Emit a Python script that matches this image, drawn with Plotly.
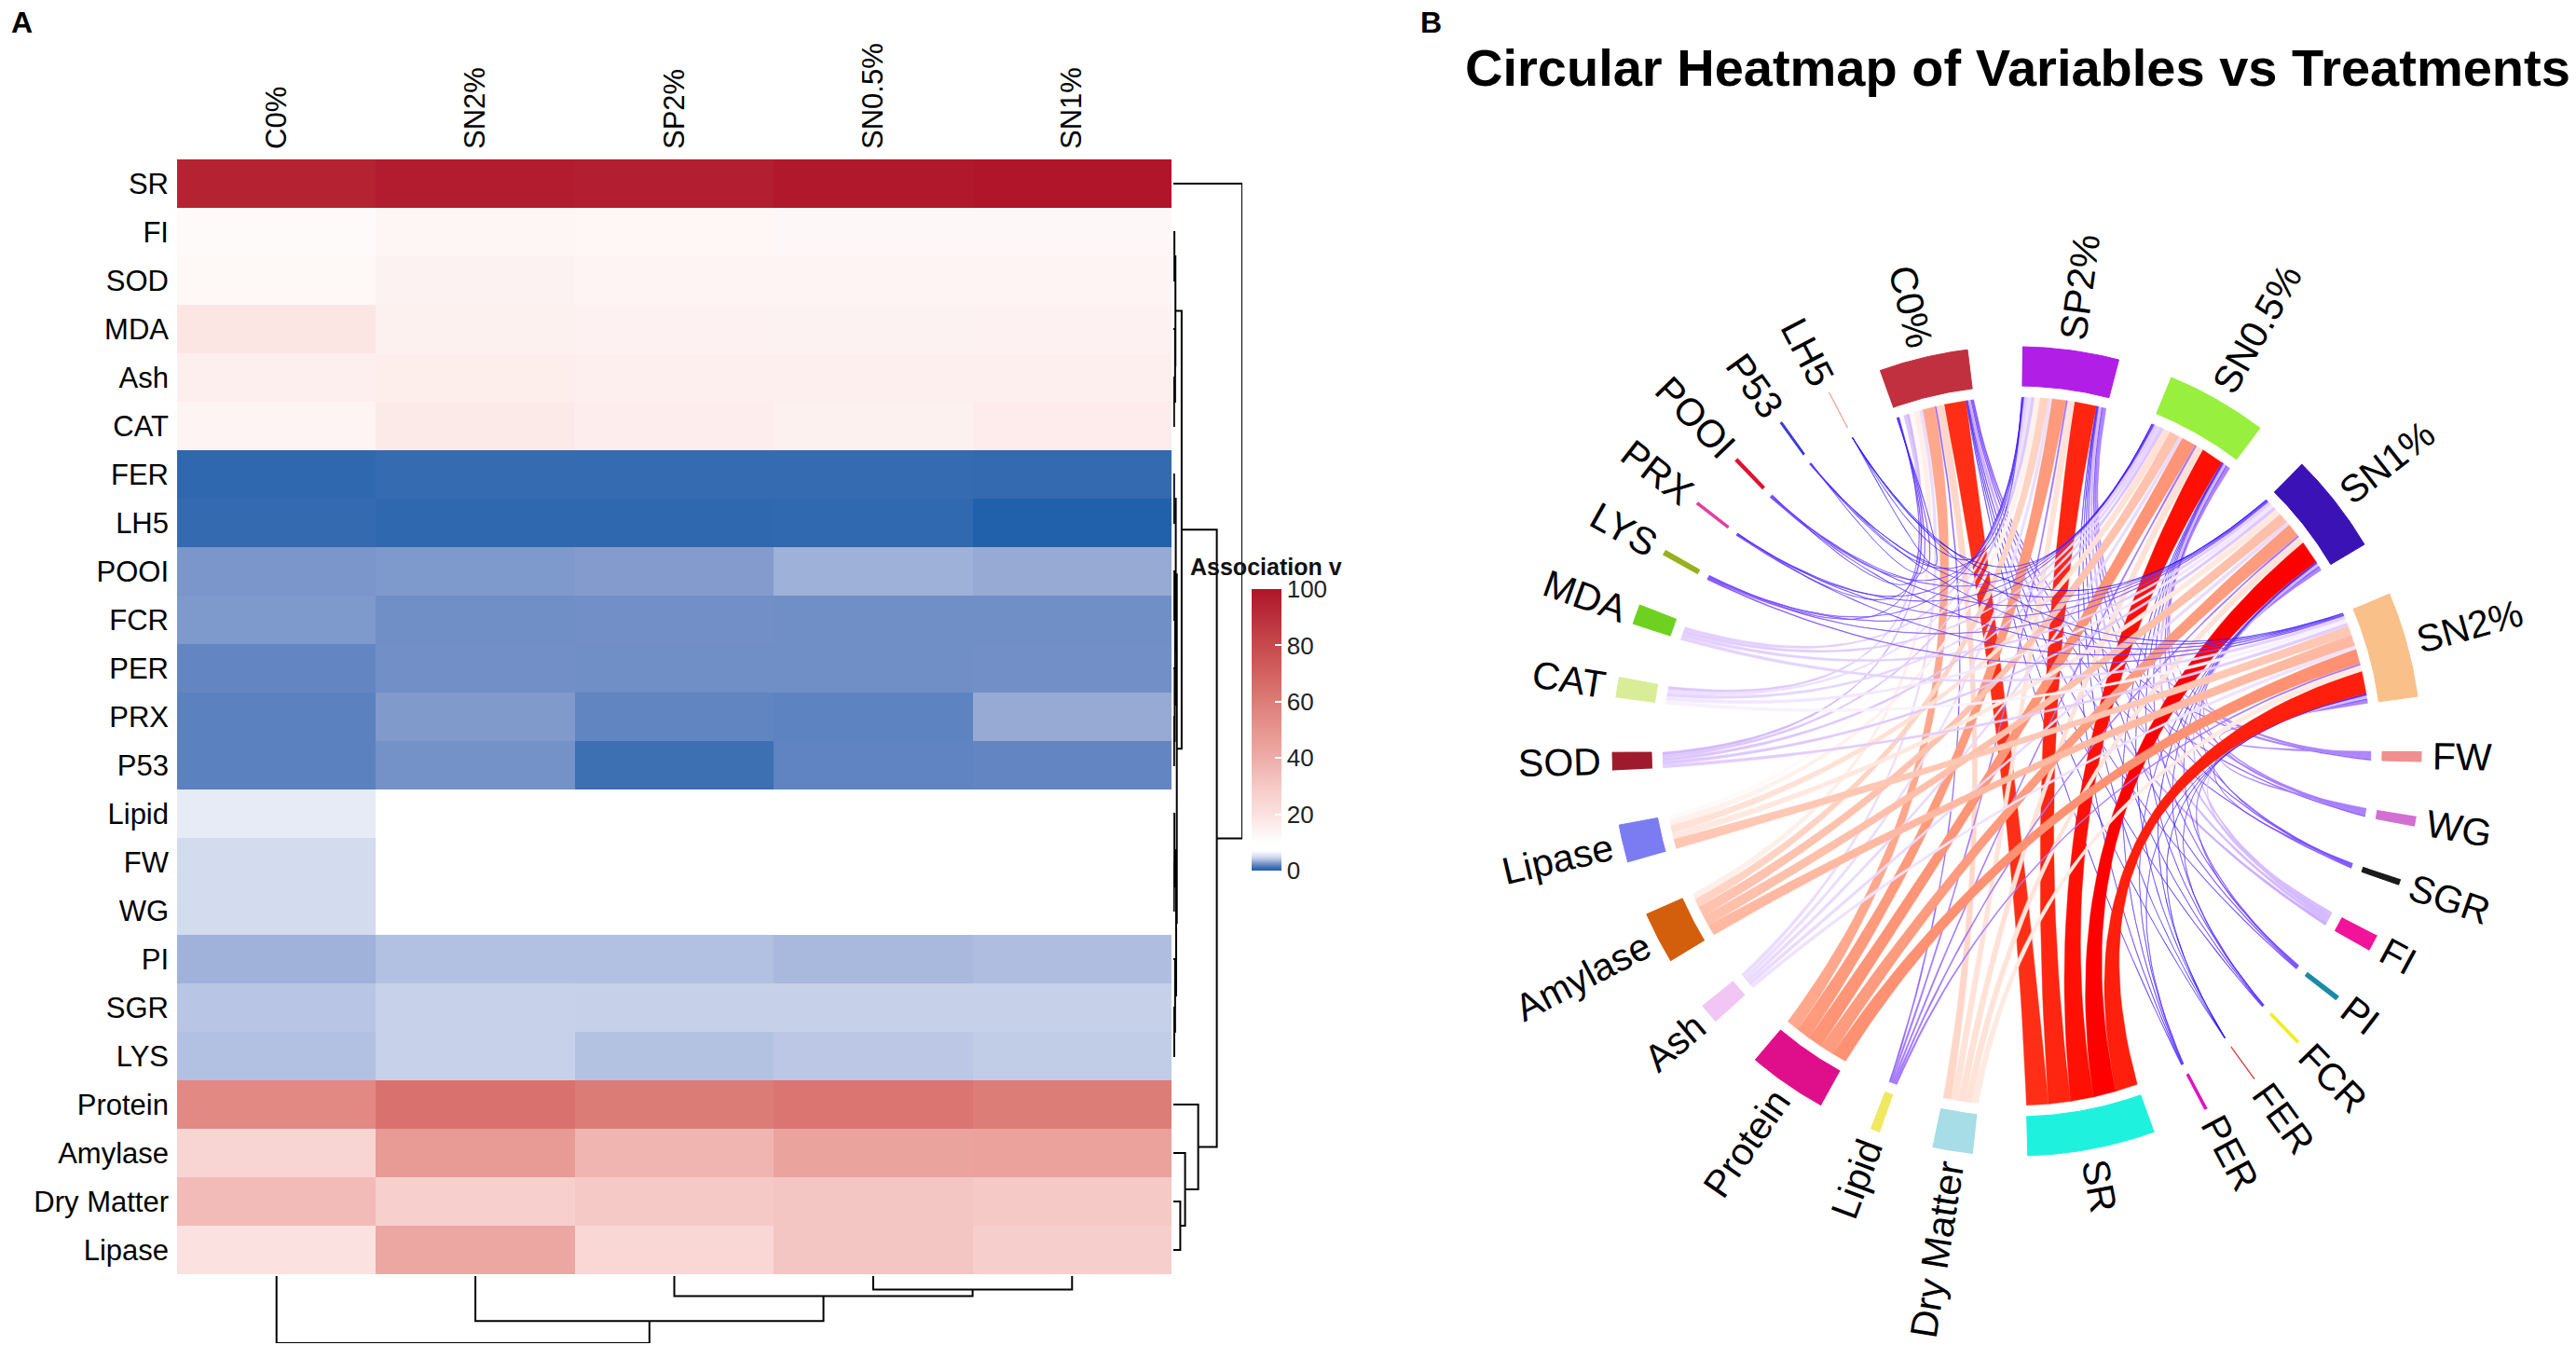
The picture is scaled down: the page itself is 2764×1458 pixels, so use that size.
import math
import numpy as np
import plotly.graph_objects as go

# -- canvas size in px
W, H = 2764, 1458

# -- heatmap rows / columns (clustered order)
variables = ["SR", "FI", "SOD", "MDA", "Ash", "CAT", "FER", "LH5", "POOI", "FCR", "PER", "PRX", "P53",
             "Lipid", "FW", "WG", "PI", "SGR", "LYS", "Protein", "Amylase", "Dry Matter", "Lipase"]
treatments = ["C0%", "SN2%", "SP2%", "SN0.5%", "SN1%"]

# -- association values for each treatment, in the order of `variables`
c0 = [95, 11.7, 12.5, 18.5, 15.3, 13.7, 0.6, 0.7, 2.55, 2.65, 2.0, 1.8, 1.8,
      5.9, 4.9, 4.9, 3.45, 4.0, 3.85, 55, 25, 35, 20]
sn2 = [97.5, 13.0, 14.2, 14.6, 15.8, 17.0, 0.75, 0.6, 2.65, 2.3, 2.35, 2.7, 2.4,
       7.5, 8.5, 8.0, 3.85, 4.5, 4.5, 64, 48, 27, 42]
sp2 = [96.5, 12.7, 13.8, 14.4, 15.5, 15.7, 0.75, 0.6, 2.75, 2.35, 2.3, 1.95, 1.0,
       7.5, 8.5, 8.0, 3.85, 4.45, 3.9, 60.5, 37, 30, 24]
sn05 = [99, 12.6, 13.6, 14.2, 15.2, 14.8, 0.75, 0.65, 3.4, 2.3, 2.3, 1.85, 1.9,
        7.5, 8.5, 8.0, 3.65, 4.45, 4.1, 63, 44, 31, 31]
sn1 = [100, 12.6, 13.8, 14.4, 15.2, 16.2, 0.7, 0.15, 3.2, 2.3, 2.35, 3.2, 2.0,
       7.5, 8.5, 8.0, 3.8, 4.45, 4.3, 60, 45, 30, 28]
columns = [c0, sn2, sp2, sn05, sn1]

# -- heatmap colour ramp
heat_breaks = [0, 1, 2, 3, 4, 5, 6, 7, 10, 20, 30, 40, 50, 60, 70, 80, 90, 100]
heat_colors = ["#1c5ea9", "#3d6fb3", "#6386c2", "#8da3d0", "#b8c5e4", "#d6ddef", "#e9edf7", "#ffffff",
               "#ffffff", "#fbe1df", "#f5c9c6", "#eeaca8", "#e7958f", "#dd7d78", "#d2625f", "#c64a4d",
               "#b9303a", "#b0152a"]
bar_ticks = [0, 20, 40, 60, 80, 100]

# -- dendrograms: [height, left, right], leaves are row / column indices
row_tree = [100, 0, [63, [12, [3, [1.5, 1, 2], [2.5, 3, [1, 4, 5]]],
                          [5, [3.5, [1, 6, 7], [2.5, [1.5, 8, 9], [2, 10, [1, 11, 12]]]],
                              [4, [1.5, 13, [0.8, 14, 15]], [2.5, 16, [1.2, 17, 18]]]]],
                     [36, 19, [17, 20, [10, 21, 22]]]]]
col_tree = [100, 0, [67, 1, [30, 2, [20, 3, 4]]]]

# -- chord diagram: sector order (clockwise from 3 o'clock) and grid colours
chord_vars = ["FW", "WG", "SGR", "FI", "PI", "FCR", "FER", "PER", "SR", "Dry Matter", "Lipid", "Protein",
              "Ash", "Amylase", "Lipase", "SOD", "CAT", "MDA", "LYS", "PRX", "POOI", "P53", "LH5"]
var_grid = ["#ef8f8f", "#d36fd3", "#1a1a1a", "#f2139a", "#1a8aa8", "#f0ee20", "#d84040", "#e012c4",
            "#1ef2df", "#a6dde6", "#f0e860", "#df0f8b", "#f1c6f4", "#d35f0c", "#7b7bf2", "#9e1a2c",
            "#d9ec98", "#6fd11f", "#98b020", "#e040a0", "#e01030", "#3b3bd6", "#f0a090"]
chord_treat = ["C0%", "SP2%", "SN0.5%", "SN1%", "SN2%"]
treat_grid = ["#c1303f", "#b11ee6", "#99ef3d", "#3b12b5", "#f9c08a"]
chord_breaks = [0, 18, 100]
chord_colors = ["#0000ff", "#ffffff", "#ff0000"]

FONT = "Liberation Sans, Arial, sans-serif"


def px_x(p):
    return p / W


def px_y(p):
    return 1 - p / H


# ---------------------------------------------------------------- colour helpers (LAB ramp like circlize)
def hex2rgb(h):
    return [int(h[i:i + 2], 16) / 255 for i in (1, 3, 5)]


def rgb2lab(rgb):
    lin = [c / 12.92 if c <= 0.04045 else ((c + 0.055) / 1.055) ** 2.4 for c in rgb]
    r, g, b = lin
    x = (0.4124 * r + 0.3576 * g + 0.1805 * b) / 0.95047
    y = 0.2126 * r + 0.7152 * g + 0.0722 * b
    z = (0.0193 * r + 0.1192 * g + 0.9505 * b) / 1.08883
    f = lambda t: t ** (1 / 3) if t > 0.008856 else 7.787 * t + 16 / 116
    return [116 * f(y) - 16, 500 * (f(x) - f(y)), 200 * (f(y) - f(z))]


def lab2hex(lab):
    L, a, b = lab
    fy = (L + 16) / 116
    fx, fz = fy + a / 500, fy - b / 200
    finv = lambda t: t ** 3 if t ** 3 > 0.008856 else (t - 16 / 116) / 7.787
    x, y, z = 0.95047 * finv(fx), finv(fy), 1.08883 * finv(fz)
    lin = [3.2406 * x - 1.5372 * y - 0.4986 * z,
           -0.9689 * x + 1.8758 * y + 0.0415 * z,
           0.0557 * x - 0.2040 * y + 1.0570 * z]
    out = []
    for c in lin:
        c = 12.92 * c if c <= 0.0031308 else 1.055 * max(c, 0) ** (1 / 2.4) - 0.055
        out.append(int(round(min(max(c, 0), 1) * 255)))
    return "#%02x%02x%02x" % tuple(out)


chord_lab = [rgb2lab(hex2rgb(c)) for c in chord_colors]


def chord_color(v):
    v = min(max(v, chord_breaks[0]), chord_breaks[-1])
    for k in range(len(chord_breaks) - 1):
        if v <= chord_breaks[k + 1]:
            t = (v - chord_breaks[k]) / (chord_breaks[k + 1] - chord_breaks[k])
            lab = [p + (q - p) * t for p, q in zip(chord_lab[k], chord_lab[k + 1])]
            return lab2hex(lab)
    return chord_colors[-1]


# ---------------------------------------------------------------- figure
fig = go.Figure()

z = [[col[i] for col in columns] for i in range(len(variables))]
fig.add_trace(go.Heatmap(
    z=z, x=treatments, y=variables, zmin=0, zmax=100,
    colorscale=[[b / 100, c] for b, c in zip(heat_breaks, heat_colors)],
    xgap=0, ygap=0, hoverinfo="skip",
    colorbar=dict(x=px_x(1343), xanchor="left", y=px_y(783), yanchor="middle",
                  len=302 / H, lenmode="fraction", thickness=32, thicknessmode="pixels",
                  tickvals=bar_ticks, ticks="inside", ticklen=7, tickwidth=2, tickcolor="white",
                  tickfont=dict(size=26, family=FONT, color="#222"),
                  outlinewidth=0, xpad=0, ypad=0),
))


def dendro(node, segs):
    if isinstance(node, int):
        return float(node), 0.0
    h, left, right = node
    pl, hl = dendro(left, segs)
    pr, hr = dendro(right, segs)
    segs.append([(hl, pl), (h, pl), (h, pr), (hr, pr)])
    return (pl + pr) / 2, h


segs = []
dendro(row_tree, segs)
dx, dy = [], []
for s in segs:
    dx += [p[0] for p in s] + [None]
    dy += [p[1] for p in s] + [None]
fig.add_trace(go.Scatter(x=dx, y=dy, mode="lines", line=dict(color="black", width=2),
                         xaxis="x2", yaxis="y2", hoverinfo="skip", showlegend=False))

segs = []
dendro(col_tree, segs)
dx, dy = [], []
for s in segs:
    dx += [p[1] for p in s] + [None]
    dy += [p[0] for p in s] + [None]
fig.add_trace(go.Scatter(x=dx, y=dy, mode="lines", line=dict(color="black", width=2),
                         xaxis="x3", yaxis="y3", hoverinfo="skip", showlegend=False))

# ---------------------------------------------------------------- chord diagram
GAP = 7.8
START = 0.0
R_LINK, R_IN, R_OUT, R_LAB = 380, 392, 434, 446

val = {}
for j, t in enumerate(treatments):
    for i, v in enumerate(variables):
        val[(v, t)] = columns[j][i]

var_sum = [sum(val[(v, t)] for t in chord_treat) for v in chord_vars]
treat_sum = [sum(val[(v, t)] for v in chord_vars) for t in chord_treat]
total = sum(var_sum)
n_sec = len(chord_vars) + len(chord_treat)
dpu = (360 - GAP * n_sec) / (2 * total)

sectors = []  # name, start, end, colour
pos = START
for name, s, col in list(zip(chord_vars, var_sum, var_grid)) + list(zip(chord_treat, treat_sum, treat_grid)):
    sectors.append((name, pos, pos - s * dpu, col))
    pos = pos - s * dpu - GAP
sec = {s[0]: s for s in sectors}

# link positions inside each sector
var_pos, treat_pos = {}, {}
for v in chord_vars:
    cur = sec[v][1]
    for t in reversed(chord_treat):
        var_pos[(v, t)] = (cur, cur - val[(v, t)] * dpu)
        cur -= val[(v, t)] * dpu
for t in chord_treat:
    cur = sec[t][1]
    for v in reversed(chord_vars):
        treat_pos[(v, t)] = (cur, cur - val[(v, t)] * dpu)
        cur -= val[(v, t)] * dpu


def pt(r, a):
    return r * math.cos(math.radians(a)), r * math.sin(math.radians(a))


def arc(r, a0, a1):
    n = max(2, int(abs(a1 - a0) / 0.4) + 2)
    return [pt(r, a) for a in np.linspace(a0, a1, n)]


def bez(p0, p2, n=40):
    c = (0.15 * (p0[0] + p2[0]) / 2, 0.15 * (p0[1] + p2[1]) / 2)
    out = []
    for t in np.linspace(0, 1, n):
        out.append(((1 - t) ** 2 * p0[0] + 2 * (1 - t) * t * c[0] + t ** 2 * p2[0],
                    (1 - t) ** 2 * p0[1] + 2 * (1 - t) * t * c[1] + t ** 2 * p2[1]))
    return out


for v in chord_vars:
    for t in chord_treat:
        a1, a2 = var_pos[(v, t)]
        b1, b2 = treat_pos[(v, t)]
        pts = (arc(R_LINK, a1, a2) + bez(pt(R_LINK, a2), pt(R_LINK, b1)) +
               arc(R_LINK, b1, b2) + bez(pt(R_LINK, b2), pt(R_LINK, a1)))
        col = chord_color(val[(v, t)])
        fig.add_trace(go.Scatter(x=[p[0] for p in pts], y=[p[1] for p in pts], mode="lines",
                                 fill="toself", fillcolor=col, line=dict(color=col, width=0.4),
                                 xaxis="x4", yaxis="y4", hoverinfo="skip", showlegend=False))

for name, s, e, col in sectors:
    pts = arc(R_OUT, s, e) + arc(R_IN, e, s)
    fig.add_trace(go.Scatter(x=[p[0] for p in pts], y=[p[1] for p in pts], mode="lines",
                             fill="toself", fillcolor=col, line=dict(color=col, width=1),
                             xaxis="x4", yaxis="y4", hoverinfo="skip", showlegend=False))

# -- rough Arial advance widths, used to push labels outwards
CW = {"A": .667, "B": .667, "C": .722, "D": .722, "E": .667, "F": .611, "G": .778, "H": .722, "I": .278,
      "K": .667, "L": .556, "M": .833, "N": .722, "O": .778, "P": .667, "R": .722, "S": .667, "T": .611,
      "W": .944, "X": .667, "Y": .667, "a": .556, "e": .556, "i": .222, "l": .222, "m": .833, "n": .556,
      "o": .556, "p": .556, "r": .333, "s": .5, "t": .278, "y": .5, "%": .889, ".": .278, " ": .278}
LAB_SIZE = 41

annotations = []
for name, s, e, col in sectors:
    mid = (s + e) / 2
    mid = (mid + 180) % 360 - 180
    length = sum(CW.get(ch, .556) for ch in name) * LAB_SIZE
    if math.cos(math.radians(mid)) >= 0:
        ang = -mid
    else:
        ang = 180 - mid
    ang = (ang + 180) % 360 - 180
    cx, cy = pt(R_LAB + length / 2, mid)
    annotations.append(dict(x=cx, y=cy, xref="x4", yref="y4", text=name, showarrow=False,
                            textangle=ang, xanchor="center", yanchor="middle",
                            font=dict(size=LAB_SIZE, family=FONT, color="black")))

annotations += [
    dict(x=px_x(23), y=px_y(24), xref="paper", yref="paper", text="<b>A</b>", showarrow=False,
         xanchor="center", yanchor="middle", font=dict(size=32, family=FONT, color="black")),
    dict(x=px_x(1535), y=px_y(24), xref="paper", yref="paper", text="<b>B</b>", showarrow=False,
         xanchor="center", yanchor="middle", font=dict(size=32, family=FONT, color="black")),
    dict(x=px_x(2165), y=px_y(72), xref="paper", yref="paper", showarrow=False,
         xanchor="center", yanchor="middle",
         text="<b>Circular Heatmap of Variables vs Treatments</b>",
         font=dict(size=56, family=FONT, color="black")),
    dict(x=px_x(1275), y=px_y(608), xref="paper", yref="paper", xanchor="left", yanchor="middle",
         text="<b>Association v</b>", showarrow=False, font=dict(size=25, family=FONT, color="#111")),
]

hide = dict(visible=False, showgrid=False, zeroline=False, fixedrange=True)
fig.update_layout(
    width=W, height=H, margin=dict(l=0, r=0, t=0, b=0),
    paper_bgcolor="white", plot_bgcolor="white", showlegend=False,
    xaxis=dict(domain=[px_x(190), px_x(1257)], range=[-0.5, 4.5], side="top", tickangle=-90,
               showgrid=False, zeroline=False, ticks="", ticklabelstandoff=10,
               tickfont=dict(size=31, family=FONT, color="black"), anchor="y"),
    yaxis=dict(domain=[px_y(1367), px_y(171)], range=[22.5, -0.5], showgrid=False, zeroline=False,
               ticks="", ticklabelstandoff=8, tickfont=dict(size=31, family=FONT, color="black"),
               anchor="x"),
    xaxis2=dict(domain=[px_x(1259), px_x(1333)], range=[0, 100], anchor="y2", **hide),
    yaxis2=dict(domain=[px_y(1367), px_y(171)], range=[22.5, -0.5], anchor="x2", **hide),
    xaxis3=dict(domain=[px_x(190), px_x(1257)], range=[-0.5, 4.5], anchor="y3", **hide),
    yaxis3=dict(domain=[px_y(1441), px_y(1369)], range=[100, 0], anchor="x3", **hide),
    xaxis4=dict(domain=[px_x(1500), 1], range=[1500 - 2164, W - 2164], anchor="y4", **hide),
    yaxis4=dict(domain=[0, 1], range=[806 - H, 806], anchor="x4", **hide),
    annotations=annotations,
)

fig.write_html("out.html", config={"displayModeBar": False},
               post_script="document.body.style.margin='0';document.body.style.overflow='hidden';")
